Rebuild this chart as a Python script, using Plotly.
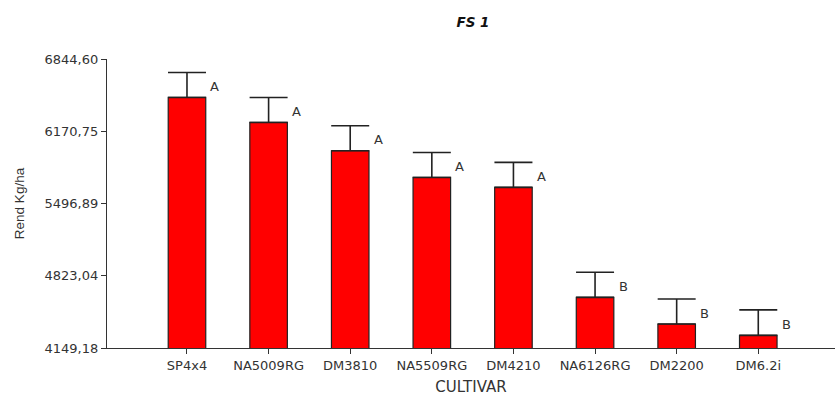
import plotly.graph_objects as go

cultivars = ["SP4x4", "NA5009RG", "DM3810", "NA5509RG", "DM4210", "NA6126RG", "DM2200", "DM6.2i"]
rend = [6486, 6253, 5989, 5740, 5647, 4621, 4373, 4267]
err = [233, 233, 233, 233, 233, 235, 233, 238]
letters = ["A", "A", "A", "A", "A", "B", "B", "B"]
ytickvals = [4149.18, 4823.04, 5496.89, 6170.75, 6844.60]
yticktext = ["4149,18", "4823,04", "5496,89", "6170,75", "6844,60"]

FONT = "DejaVu Sans"

fig = go.Figure()
fig.add_trace(go.Bar(
    x=list(range(len(cultivars))), y=rend,
    width=0.46,
    marker=dict(color="#ff0000", line=dict(color="#222222", width=1.2)),
    error_y=dict(type="data", symmetric=False, array=err, arrayminus=[0]*len(err),
                 color="#222222", thickness=1.6, width=19),
    showlegend=False,
))

for i, (v, e, l) in enumerate(zip(rend, err, letters)):
    fig.add_annotation(x=i, y=v + 0.44 * e, text=l, showarrow=False,
                       xshift=28, font=dict(family=FONT, size=13, color="#333333"))

fig.update_layout(
    width=835, height=396,
    margin=dict(l=107, r=0, t=59, b=48),
    paper_bgcolor="white", plot_bgcolor="white",
    title=dict(text="<b><i>FS 1</i></b>", x=473/835, xanchor="center", y=1 - 22/396, yanchor="middle",
               font=dict(family=FONT, size=13.5, color="#111111")),
    font=dict(family=FONT, size=13, color="#333333"),
)
fig.update_xaxes(
    range=[-0.98, 7.94], tickvals=list(range(len(cultivars))), ticktext=cultivars,
    showline=True, linecolor="#333333", linewidth=1.2, ticks="outside", ticklen=5,
    tickcolor="#333333", showgrid=False, zeroline=False,
    title=dict(text="CULTIVAR", standoff=9, font=dict(family=FONT, size=15)),
    tickfont=dict(family=FONT, size=13),
)
fig.update_yaxes(
    range=[4149.18, 6844.60], tickvals=ytickvals, ticktext=yticktext,
    showline=True, linecolor="#333333", linewidth=1.2, ticks="outside", ticklen=5,
    tickcolor="#333333", showgrid=False, zeroline=False,
    title=dict(text="Rend Kg/ha", standoff=16, font=dict(family="Liberation Sans, Arial", size=13.5)),
    tickfont=dict(family=FONT, size=13),
)
fig.write_html("out.html", config={"displayModeBar": False},
               post_script="document.body.style.margin='0';")
